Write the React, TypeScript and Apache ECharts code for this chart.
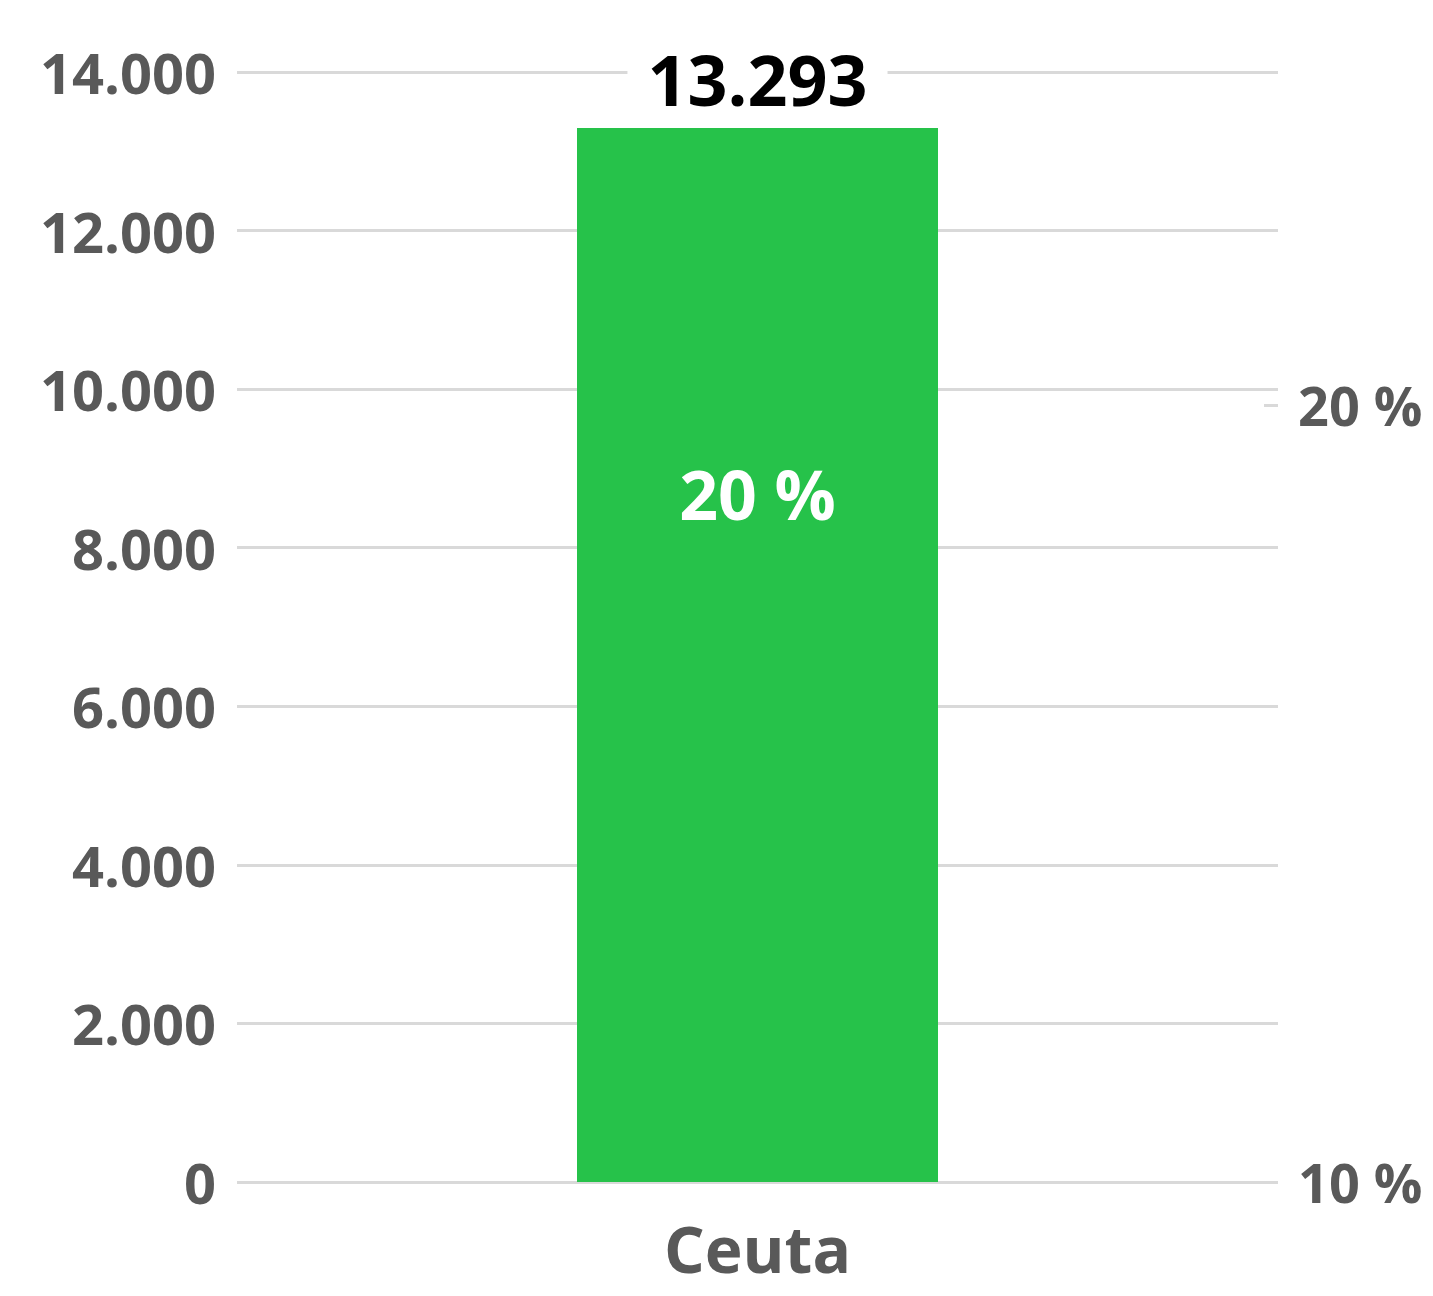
import React, { useEffect, useRef } from "react";
import * as echarts from "echarts";

const categories = ["Ceuta"];
const values = [13293];
const percents = [20];
const leftTicks = { min: 0, max: 14000, interval: 2000 };
const rightTicks = { min: 10, max: 24.29, interval: 10 };

const GRAY = "#595959";
const GRID = "#d9d9d9";
const FONT = "'Open Sans', 'Noto Sans', sans-serif";

const fmtThousands = (v: number) =>
  String(Math.round(v)).replace(/\B(?=(\d{3})+(?!\d))/g, ".");

export default function App() {
  const ref = useRef<HTMLDivElement>(null);
  useEffect(() => {
    if (!ref.current) return;
    const chart = echarts.init(ref.current, undefined, { renderer: "svg" });
    chart.setOption({
      animation: false,
      backgroundColor: "#ffffff",
      textStyle: { fontFamily: FONT },
      grid: { left: 237, right: 155, top: 72, bottom: 114, containLabel: false },
      xAxis: {
        type: "category",
        data: categories,
        axisLine: { show: false },
        axisTick: { show: false },
        axisLabel: {
          color: GRAY,
          fontSize: 64,
          lineHeight: 64,
          fontWeight: "bold",
          fontFamily: FONT,
          margin: 34,
        },
      },
      yAxis: [
        {
          type: "value",
          min: leftTicks.min,
          max: leftTicks.max,
          interval: leftTicks.interval,
          axisLine: { show: false },
          axisTick: { show: false },
          splitLine: { lineStyle: { color: GRID, width: 3 } },
          axisLabel: {
            color: GRAY,
            fontSize: 56,
            fontWeight: "bold",
            fontFamily: FONT,
            margin: 21,
            formatter: (v: number) => fmtThousands(v),
          },
        },
        {
          type: "value",
          position: "right",
          min: rightTicks.min,
          max: rightTicks.max,
          interval: rightTicks.interval,
          axisLine: { show: false },
          axisTick: { show: true, inside: true, length: 14, lineStyle: { color: GRID, width: 3 } },
          splitLine: { show: false },
          axisLabel: {
            color: GRAY,
            fontSize: 54,
            fontWeight: "bold",
            fontFamily: FONT,
            margin: 20,
            formatter: "{value} %",
            showMaxLabel: false,
          },
        },
      ],
      series: [
        {
          type: "bar",
          data: values,
          barWidth: 361,
          itemStyle: { color: "#26C24A" },
          label: {
            show: true,
            position: "top",
            distance: 14,
            color: "#000000",
            fontSize: 70,
            fontWeight: "bold",
            fontFamily: FONT,
            backgroundColor: "#ffffff",
            padding: [0, 20],
            formatter: (p: any) => fmtThousands(p.value),
          },
        },
        {
          type: "scatter",
          yAxisIndex: 1,
          data: percents,
          symbolSize: 1,
          itemStyle: { color: "rgba(0,0,0,0)", opacity: 1 },
          label: {
            show: true,
            position: "inside",
            offset: [0, 88],
            color: "#ffffff",
            opacity: 1,
            fontSize: 68,
            fontWeight: "bold",
            fontFamily: FONT,
            formatter: (p: any) => `${p.value} %`,
          },
          z: 5,
        },
      ],
    });
    return () => chart.dispose();
  }, []);
  return (
    <div
      ref={ref}
      style={{ position: "fixed", left: 0, top: 0, width: 1433, height: 1296, background: "#fff" }}
    />
  );
}
